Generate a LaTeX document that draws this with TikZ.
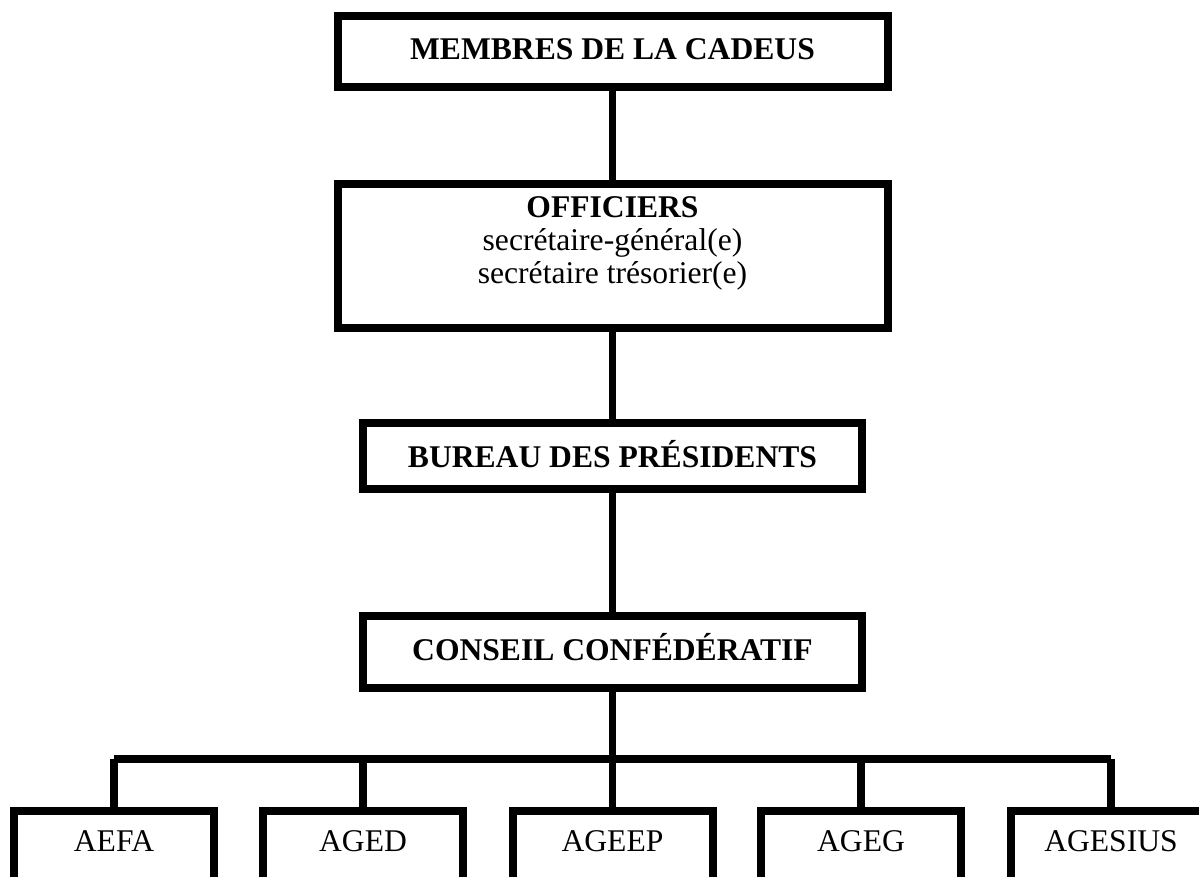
\documentclass[tikz,border=0pt]{standalone}
\usepackage{fontspec}
\setmainfont{Liberation Serif}
\begin{document}
\begin{tikzpicture}[x=1pt,y=-1pt,
  box/.style={draw=black, line width=8pt, rectangle, inner sep=0pt, fill=white},
  conn/.style={draw=black, line width=7.5pt},
  lbl/.style={anchor=base, inner sep=0pt, font=\fontsize{31.6}{36}\selectfont},
  blbl/.style={lbl, font=\fontsize{31.6}{36}\selectfont\bfseries}]
\useasboundingbox (0,0) rectangle (1199,876);
% upper boxes
\node[box, minimum width=550pt, minimum height=71pt] (membres) at (612.5,51.5) {};
\node[box, minimum width=550pt, minimum height=144pt] (officiers) at (612.5,256) {};
\node[box, minimum width=499pt, minimum height=66pt] (bureau) at (612.5,456) {};
\node[box, minimum width=499pt, minimum height=72pt] (conseil) at (612.5,652) {};
% texts
\node[blbl] (tmembres) at (612.5,59) {MEMBRES DE LA CADEUS};
\node[blbl] (tofficiers) at (612.5,217) {OFFICIERS};
\node[lbl] (tsg) at (612.5,250) {secrétaire-général(e)};
\node[lbl] (tst) at (612.5,283) {secrétaire trésorier(e)};
\node[blbl] (tbureau) at (612.5,467) {BUREAU DES PRÉSIDENTS};
\node[blbl] (tconseil) at (612.5,660) {CONSEIL CONFÉDÉRATIF};
% bottom boxes
\foreach \n/\x/\t in {aefa/114/AEFA, aged/363/AGED, ageep/612.5/AGEEP, ageg/861/AGEG, agesius/1111/AGESIUS}{
  \node[box, minimum width=200pt, minimum height=100pt, anchor=north] (\n) at (\x,807) {};
  \node[lbl] (t\n) at (\x,851) {\t};
  \coordinate (b\n) at (\x,759);
}
% connectors
\draw[conn] (membres.south) -- (officiers.north);
\draw[conn] (officiers.south) -- (bureau.north);
\draw[conn] ([yshift=3pt]bureau.south) -- (conseil.north);
\coordinate (bar) at (612.5,759);
\draw[conn] (conseil.south) -- (bar);
\draw[conn, line width=8pt] (baefa) -- (bagesius);
\foreach \n in {aefa, aged, ageep, ageg, agesius}{
  \draw[conn] (b\n) -- (\n.north);
}
\end{tikzpicture}
\end{document}
